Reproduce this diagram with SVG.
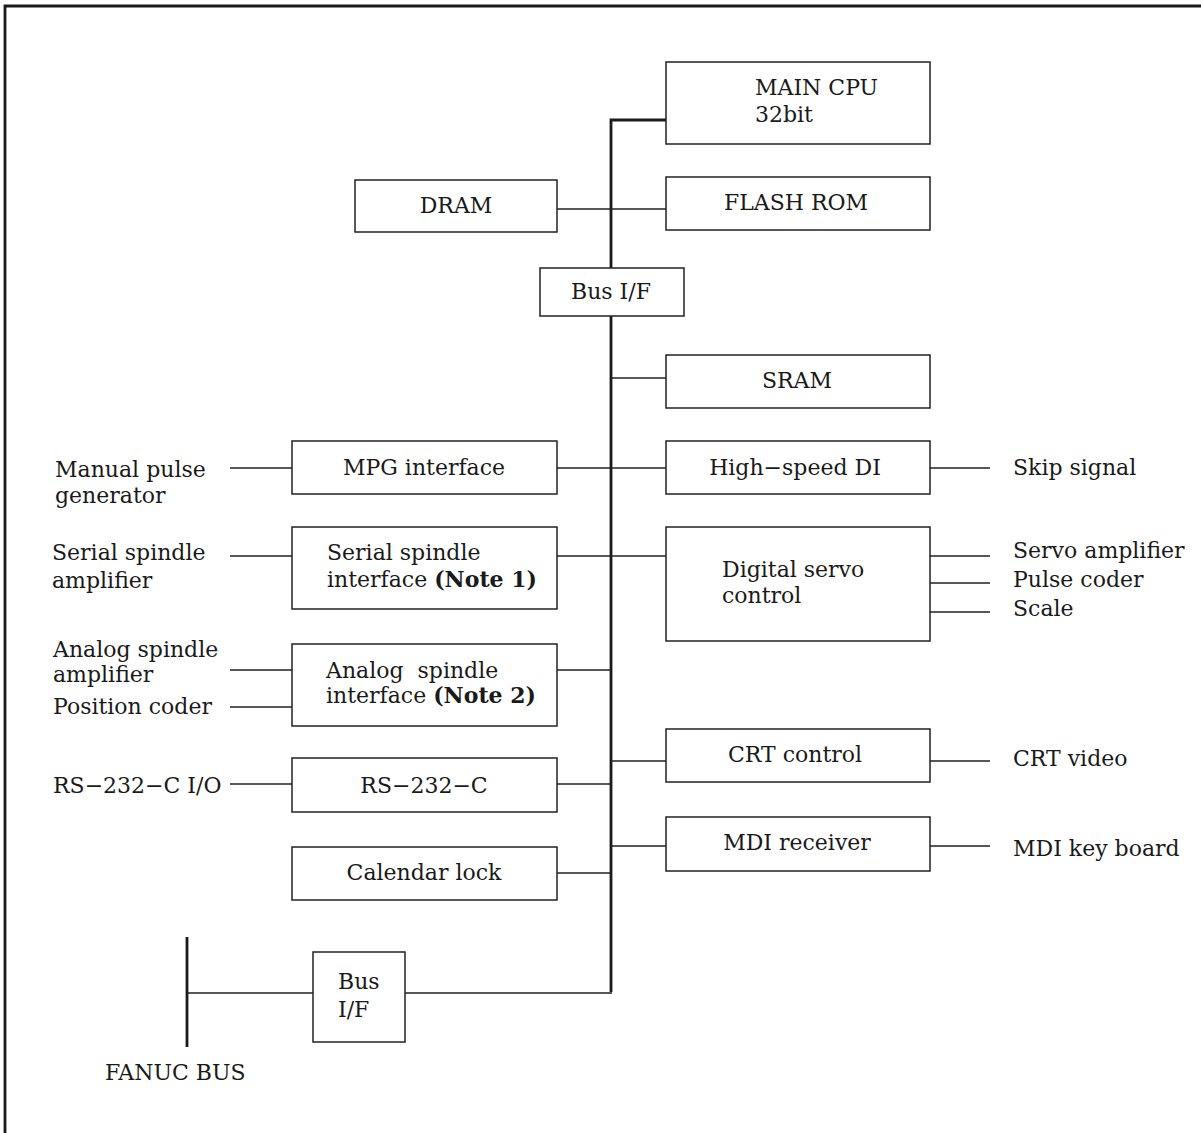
<svg xmlns="http://www.w3.org/2000/svg" width="1201" height="1133" viewBox="0 0 1201 1133">
<style>
.box{fill:#fff;stroke:#222;stroke-width:1.5}
.ln{fill:none;stroke:#222;stroke-width:1.5}
.bus{fill:none;stroke:#1a1a1a;stroke-width:2.8}
text{font-family:"DejaVu Serif","Liberation Serif",serif;font-size:22px;fill:#1a1a1a}
.c{text-anchor:middle}
.b{font-weight:bold}
</style>
<rect width="1201" height="1133" fill="#fff"/>
<path class="bus" d="M5,1133 V6 H1201"/>
<g id="connectors">
<path class="bus" d="M666,120 H611 V268 M611,316 V992"/>
<path class="ln" d="M557,209 H666"/>
<path class="ln" d="M611,378 H666"/>
<path class="ln" d="M230,468 H292 M557,468 H666 M930,468 H990"/>
<path class="ln" d="M230,556 H292 M557,556 H666"/>
<path class="ln" d="M930,556 H990 M930,583 H990 M930,612 H990"/>
<path class="ln" d="M230,670 H292 M230,707 H292 M557,670 H611"/>
<path class="ln" d="M611,761 H666 M930,761 H990"/>
<path class="ln" d="M230,784 H292 M557,784 H611"/>
<path class="ln" d="M611,846 H666 M930,846 H990"/>
<path class="ln" d="M557,873 H610"/>
<path class="ln" d="M187,993 H313 M405,993 H612"/>
<path class="bus" d="M187,937 V1047"/>
</g>
<g id="main-cpu"><rect class="box" x="666" y="62" width="264" height="82"/><text x="755" y="95">MAIN CPU</text><text x="755" y="122">32bit</text></g>
<g id="dram"><rect class="box" x="355" y="180" width="202" height="52"/><text class="c" x="456" y="213">DRAM</text></g>
<g id="flash-rom"><rect class="box" x="666" y="177" width="264" height="53"/><text class="c" x="796" y="210">FLASH ROM</text></g>
<g id="bus-if-top"><rect class="box" x="540" y="268" width="144" height="48"/><text class="c" x="611" y="299">Bus I/F</text></g>
<g id="sram"><rect class="box" x="666" y="355" width="264" height="53"/><text class="c" x="797" y="388">SRAM</text></g>
<g id="mpg-interface"><rect class="box" x="292" y="441" width="265" height="53"/><text class="c" x="424" y="475">MPG interface</text></g>
<g id="manual-pulse-generator"><text x="55" y="477">Manual pulse</text><text x="55" y="503">generator</text></g>
<g id="high-speed-di"><rect class="box" x="666" y="441" width="264" height="53"/><text class="c" x="795" y="475">High−speed DI</text></g>
<g id="skip-signal"><text x="1013" y="475">Skip signal</text></g>
<g id="serial-spindle-interface"><rect class="box" x="292" y="527" width="265" height="82"/><text x="327" y="560">Serial spindle</text><text x="327" y="587">interface <tspan class="b">(Note 1)</tspan></text></g>
<g id="serial-spindle-amplifier"><text x="52" y="560">Serial spindle</text><text x="52" y="588">amplifier</text></g>
<g id="digital-servo-control"><rect class="box" x="666" y="527" width="264" height="114"/><text x="722" y="577">Digital servo</text><text x="722" y="603">control</text></g>
<g id="servo-outputs"><text x="1013" y="558">Servo amplifier</text><text x="1013" y="587">Pulse coder</text><text x="1013" y="616">Scale</text></g>
<g id="analog-spindle-interface"><rect class="box" x="292" y="644" width="265" height="82"/><text x="326" y="678" xml:space="preserve">Analog  spindle</text><text x="326" y="703">interface <tspan class="b">(Note 2)</tspan></text></g>
<g id="analog-spindle-amplifier"><text x="53" y="657">Analog spindle</text><text x="53" y="682">amplifier</text></g>
<g id="position-coder"><text x="53" y="714">Position coder</text></g>
<g id="crt-control"><rect class="box" x="666" y="729" width="264" height="53"/><text class="c" x="795" y="762">CRT control</text></g>
<g id="crt-video"><text x="1013" y="766">CRT video</text></g>
<g id="rs232c"><rect class="box" x="292" y="758" width="265" height="54"/><text class="c" x="424" y="793">RS−232−C</text></g>
<g id="rs232c-io"><text x="53" y="793">RS−232−C I/O</text></g>
<g id="mdi-receiver"><rect class="box" x="666" y="817" width="264" height="54"/><text class="c" x="797" y="850">MDI receiver</text></g>
<g id="mdi-key-board"><text x="1013" y="856">MDI key board</text></g>
<g id="calendar-lock"><rect class="box" x="292" y="847" width="265" height="53"/><text class="c" x="424" y="880">Calendar lock</text></g>
<g id="bus-if-bottom"><rect class="box" x="313" y="952" width="92" height="90"/><text x="338" y="989">Bus</text><text x="338" y="1017">I/F</text></g>
<g id="fanuc-bus"><text x="105" y="1080">FANUC BUS</text></g>
</svg>
